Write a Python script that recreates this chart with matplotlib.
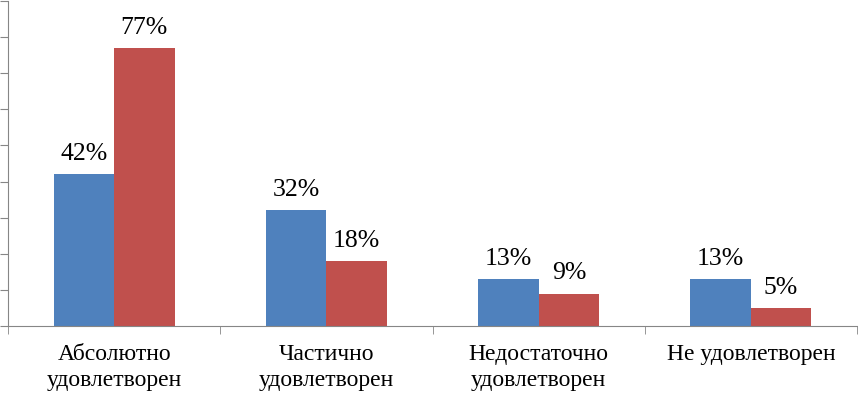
import numpy as np
import matplotlib.pyplot as plt

categories = ['Абсолютно\nудовлетворен', 'Частично\nудовлетворен',
              'Недостаточно\nудовлетворен', 'Не удовлетворен']
series_a = [42, 32, 13, 13]
series_b = [77, 18, 9, 5]

plt.rcParams['font.family'] = ['Liberation Serif', 'DejaVu Serif']

fig = plt.figure(figsize=(8.58, 3.93), dpi=100)
ax = fig.add_axes([8 / 858, 67 / 393, 849 / 858, 325 / 393])

x = np.arange(len(categories))
w = 0.285
b1 = ax.bar(x - w / 2, series_a, w, color='#4F81BD')
b2 = ax.bar(x + w / 2, series_b, w, color='#C0504D')

for bars, vals in ((b1, series_a), (b2, series_b)):
    for r, v in zip(bars, vals):
        ax.text(r.get_x() + r.get_width() / 2, v + 3.9, f'{v}%',
                ha='center', va='baseline', fontsize=18.5)

ax.set_xlim(-0.5, len(categories) - 0.5)
ax.set_ylim(0, 90)
ax.set_yticks(np.arange(0, 91, 10))
ax.set_yticklabels([])
ax.set_xticks(x)
ax.set_xticklabels(categories, fontsize=17, linespacing=1.3)
ax.set_xticks(np.arange(-0.5, len(categories), 1), minor=True)
ax.tick_params(axis='x', which='major', length=0, pad=13)
ax.tick_params(axis='x', which='minor', length=6, color='#868686', direction='out')
ax.tick_params(axis='y', length=6, color='#868686', direction='out')

for s in ('top', 'right'):
    ax.spines[s].set_visible(False)
for s in ('left', 'bottom'):
    ax.spines[s].set_color('#868686')

fig.savefig('out.png', dpi=100)
